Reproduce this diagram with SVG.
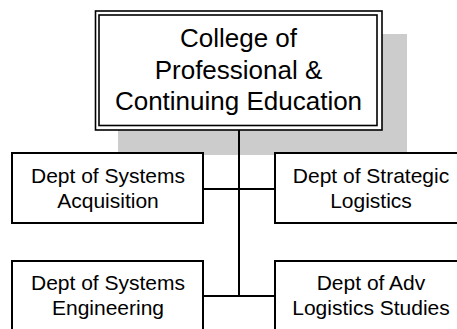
<svg xmlns="http://www.w3.org/2000/svg" width="457" height="329" viewBox="0 0 457 329">
<style>
.box{fill:#fff;stroke:#000;stroke-width:2}
.frame{fill:#fff;stroke:#000;stroke-width:1.6}
.t{font-family:"Liberation Sans",Arial,sans-serif;fill:#000;text-anchor:middle}
.big{font-size:26px}
.dept{font-size:21px}
.conn{stroke:#000;stroke-width:2;fill:none}
</style>
<rect x="0" y="0" width="457" height="329" fill="#fff"/>
<rect id="shadow" x="118" y="34" width="289" height="121" fill="#cccccc"/>
<g id="college">
<rect class="frame" x="95.5" y="11" width="286.5" height="119"/>
<rect class="frame" x="99" y="15" width="278" height="110.5"/>
<text class="t big" x="238.5" y="47">College of</text>
<text class="t big" x="238.5" y="79">Professional &amp;</text>
<text class="t big" x="238.5" y="110">Continuing Education</text>
</g>
<g id="connectors">
<line class="conn" x1="239" y1="130" x2="239" y2="296"/>
<line class="conn" x1="203" y1="189" x2="275" y2="189"/>
<line class="conn" x1="203" y1="296" x2="275" y2="296"/>
</g>
<g id="acquisition">
<rect class="box" x="12" y="153" width="191" height="70"/>
<text class="t dept" x="108" y="182.7">Dept of Systems</text>
<text class="t dept" x="108" y="207.5">Acquisition</text>
</g>
<g id="strategic">
<rect class="box" x="275" y="153" width="192" height="70"/>
<text class="t dept" x="371" y="182.7">Dept of Strategic</text>
<text class="t dept" x="371" y="207.5">Logistics</text>
</g>
<g id="engineering">
<rect class="box" x="12" y="261" width="191" height="80"/>
<text class="t dept" x="108" y="290">Dept of Systems</text>
<text class="t dept" x="108" y="315">Engineering</text>
</g>
<g id="advlogistics">
<rect class="box" x="275" y="261" width="192" height="80"/>
<text class="t dept" x="371" y="290">Dept of Adv</text>
<text class="t dept" x="371" y="315">Logistics Studies</text>
</g>
</svg>
